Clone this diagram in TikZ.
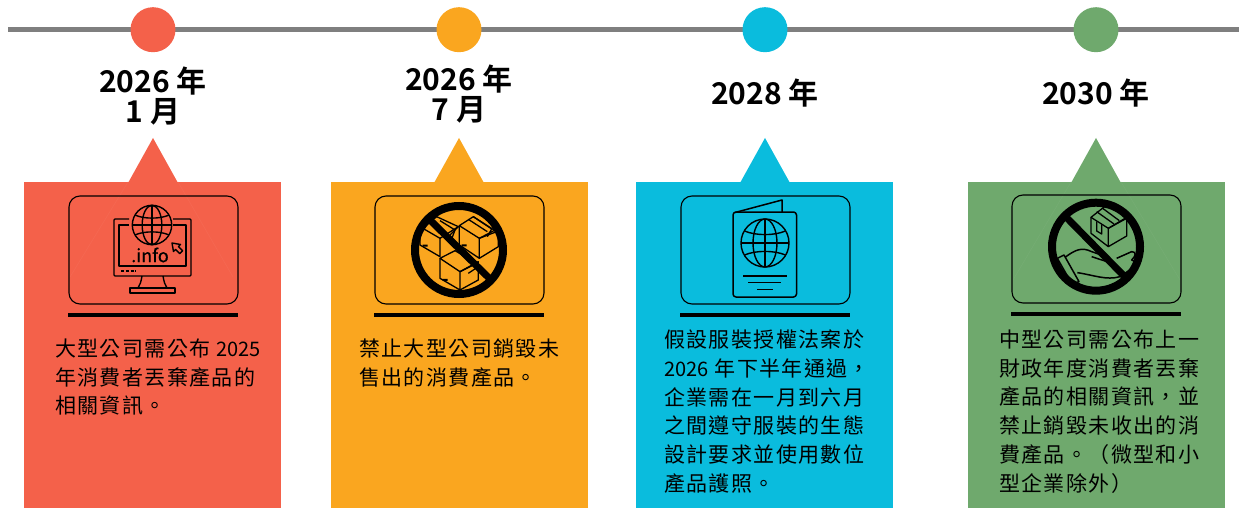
\documentclass[tikz,border=0pt]{standalone}
\usepackage{fontspec}
\setmainfont{Noto Sans CJK TC}
\newfontfamily\bodyfont[LetterSpace=6.5]{Noto Sans CJK TC}
\newfontfamily\digfont{Noto Sans CJK TC}
\newfontfamily\infofont[FakeBold=0.6]{Noto Sans CJK TC}
\newfontfamily\datefont[BoldFont=Noto Sans CJK TC Bold]{Noto Sans CJK TC}
\newcommand{\dg}[1]{{\digfont\fontsize{20}{28.8}\selectfont #1}}
\definecolor{cred}{HTML}{F4614A}
\definecolor{corange}{HTML}{FAA61F}
\definecolor{cblue}{HTML}{0ABCDD}
\definecolor{cgreen}{HTML}{6FA96D}
\definecolor{cgray}{HTML}{7F7F7F}
\usetikzlibrary{calc}
\tikzset{
  x=1pt,y=-1pt,
  dot/.style={circle,minimum size=45pt,inner sep=0pt,fill=#1},
  datelabel/.style={align=center,font=\datefont\bfseries\fontsize{30}{33}\selectfont,text=black,inner sep=0pt},
  bodytext/.style={align=left,anchor=north west,inner sep=0pt,font=\bodyfont\fontsize{21}{28.8}\selectfont,text=black},
  iconbox/.style={draw=black,line width=1.1pt,rounded corners=11pt},
  rule/.style={fill=black},
  ic/.style={draw=black,line width=1.4pt,line join=round},
  icth/.style={draw=black,line width=1.3pt,line join=round},
  zoomed/.style={x=.3333pt,y=-.3333pt},
}
\newcommand{\card}[3]{% left, apex, colour
  \fill[#3] (#1,182) rectangle ++(257,326);
  \fill[#3] (#2-25,183) -- (#2,138) -- (#2+25,183) -- cycle;
}
\newcommand{\globe}[4][1.4pt]{% x,y,r
  \begin{scope}[shift={(#2,#3)},line width=#1,draw=black]
    \draw (0,0) circle[radius=#4];
    \draw (0,-#4) -- (0,#4) (-#4,0) -- (#4,0);
    \draw (0,0) ellipse[x radius=#4*.5,y radius=#4];
    \draw (-#4*.85,-#4*.5) .. controls (-#4*.4,-#4*.3) and (#4*.4,-#4*.3) .. (#4*.85,-#4*.5);
    \draw (-#4*.85,#4*.5) .. controls (-#4*.4,#4*.3) and (#4*.4,#4*.3) .. (#4*.85,#4*.5);
  \end{scope}
}
\begin{document}
\begin{tikzpicture}
\useasboundingbox (0,0) rectangle (1239,508);
\fill[white] (0,0) rectangle (1239,508);
\draw[cgray,line width=4.5pt] (8,29.6) -- (1239,29.6);
\node[dot=cred] (d1) at (153,29.7) {};
\node[dot=corange] (d2) at (459,29.7) {};
\node[dot=cblue] (d3) at (765,29.7) {};
\node[dot=cgreen] (d4) at (1096,29.7) {};

\node[datelabel] (t1) at (153,96.5) {2026 年\\[-3pt]1 月};
\node[datelabel] (t2) at (459,94.5) {2026 年\\[-3pt]7 月};
\node[datelabel] (t3) at (765,93) {2028 年};
\node[datelabel] (t4) at (1096,93) {2030 年};

\card{24}{153}{cred}
\card{331}{459}{corange}
\card{636}{765}{cblue}
\card{968}{1096}{cgreen}

% faint traces inside two cards
\draw[cred!95!white,line width=.5pt] (70,277) -- (128,182) (178,182) -- (233,277);
\draw[cgreen!95!white,line width=.5pt] (1013,280) -- (1071,182) (1121,182) -- (1180,280);

% boxes and rules
\draw[iconbox] (69,196) rectangle (238,304);
\fill[rule] (68,313) rectangle (238,317);
\draw[iconbox] (375,196) rectangle (544,304);
\fill[rule] (374,313) rectangle (544,317);
\draw[iconbox] (681,196) rectangle (850,304);
\fill[rule] (680,313) rectangle (850,317);
\draw[iconbox] (1012,195) rectangle (1181,303);
\fill[rule] (1011,312) rectangle (1181,316);

% icon 1: monitor
\draw[ic,rounded corners=1pt] (129,219) -- (114,219) -- (114,276) -- (191,276) -- (191,219) -- (173,219);
\draw[ic] (129,225) -- (119,225) -- (119,266) -- (186,266) -- (186,225) -- (173,225);
\draw[line width=1.8pt,dash pattern=on 3pt off 1.8pt] (121,270.7) -- (136,270.7);
\draw[ic] (142,276) .. controls (141,282) and (140,285) .. (138,288) (163,276) .. controls (164,282) and (165,285) .. (167,288);
\draw[ic] (130,288) rectangle (175,293);
\globe{152}{225}{19.7}
\node[inner sep=0pt,font=\infofont\fontsize{18}{18}\selectfont] (info) at (150,255) {.info};
\draw[ic] (172,243) -- (180.5,244.5) -- (178.4,246.6) -- (182.6,250.8) -- (179.8,253.6) -- (175.6,249.4) -- (173.5,251.5) -- cycle;

% icon 2: boxes with prohibition
\begin{scope}[shift={(330,130)},zoomed]
\draw[icth] (388,287) -- (430,260) -- (500,305) -- (448,325) -- cycle;
\draw[icth] (388,287) -- (388,345) -- (448,385) -- (448,325);
\draw[icth] (448,325) -- (505,295) -- (505,350) -- (448,385);
\draw[icth] (415,268) -- (472,305) (430,260) -- (485,297) -- (472,320);
\draw[icth] (290,285) -- (320,260) -- (385,290) -- (355,320);
\draw[icth] (270,290) -- (330,325) -- (330,380) -- (270,345) -- cycle;
\draw[icth] (330,325) -- (385,290) (330,272) -- (375,300) -- (362,335);
\draw[icth] (330,385) -- (375,362) -- (440,400) -- (390,425) -- cycle;
\draw[icth] (330,385) -- (330,445) -- (390,480) -- (390,425);
\draw[icth] (390,425) -- (445,395) -- (445,450) -- (390,480);
\draw[icth] (395,375) -- (445,410) -- (415,430);
\fill (278,344) rectangle (293,350) (395,343) rectangle (410,349) (338,447) rectangle (353,453);
\end{scope}
\draw[line width=8pt] (459,250) circle[radius=44];
\draw[line width=7pt] (430,220) -- (490,279);

% icon 3: passport
\draw[ic,line width=1.5pt,rounded corners=3pt] (733,212) rectangle (796.5,297);
\draw[ic,line width=1.5pt] (735,212.5) -- (782,200) -- (782,212);
\globe{765}{243}{24}
\draw[ic] (743,276) -- (787,276);
\draw[ic] (748,282.7) -- (781,282.7);
\draw[ic] (757,289.3) -- (773,289.3);

% icon 4: hand and box with prohibition
\begin{scope}[shift={(960,130)},zoomed]
\draw[icth] (393,262) -- (440,225) -- (500,262) -- (445,295) -- cycle;
\draw[icth] (393,262) -- (393,310) -- (445,350) -- (445,295);
\draw[icth] (445,295) -- (500,265) -- (500,318) -- (445,350);
\draw[icth] (410,245) -- (462,282) (428,235) -- (478,272) (410,274) -- (410,303) -- (425,312) -- (425,284);
\draw[icth,line width=1.5pt] (292,385) -- (312,375) -- (357,455) -- (336,462) -- cycle;
\draw[icth,line width=1.5pt] (315,382) .. controls (345,360) and (365,350) .. (395,365) -- (445,382);
\draw[icth,line width=1.5pt] (395,380) -- (450,398);
\draw[icth,line width=1.5pt] (470,385) -- (515,365) .. controls (530,365) and (528,378) .. (515,390) -- (525,395) .. controls (525,410) and (510,420) .. (480,440) .. controls (440,452) and (400,435) .. (352,428);
\end{scope}
\draw[line width=8pt] (1096,246.7) circle[radius=44];
\draw[line width=7pt] (1066,217) -- (1125,277);

% texts
\node[bodytext] (b1) at (55,338.5) {大型公司需公布 \dg{2025}\\年消費者丟棄產品的\\相關資訊。};
\node[bodytext] (b2) at (359,338.5) {禁止大型公司銷毀未\\售出的消費產品。};
\node[bodytext] (b3) at (664,329.5) {假設服裝授權法案於\\\dg{2026} 年下半年通過，\\企業需在一月到六月\\之間遵守服裝的生態\\設計要求並使用數位\\產品護照。};
\node[bodytext] (b4) at (999,329.5) {中型公司需公布上一\\財政年度消費者丟棄\\產品的相關資訊，並\\禁止銷毀未收出的消\\費產品。（微型和小\\型企業除外）};
\end{tikzpicture}
\end{document}
